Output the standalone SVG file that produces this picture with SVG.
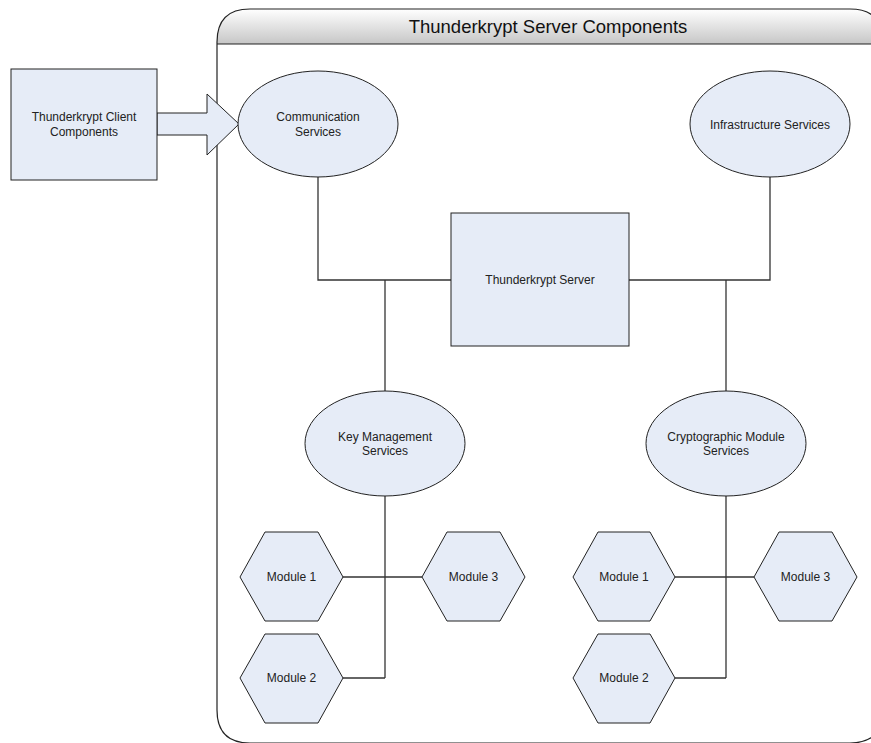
<svg xmlns="http://www.w3.org/2000/svg" width="871" height="743" viewBox="0 0 871 743">
<style>
.n{fill:#e6ecf7;stroke:#222;stroke-width:1}
.t{font-family:"Liberation Sans",Arial,sans-serif;font-size:12px;fill:#222;text-anchor:middle}
.c{fill:none;stroke:#333;stroke-width:1.3}
</style>
<defs>
<linearGradient id="hdr" x1="0" y1="0" x2="0" y2="1">
<stop offset="0" stop-color="#ffffff"/>
<stop offset="1" stop-color="#c6c6c6"/>
</linearGradient>
</defs>
<rect width="871" height="743" fill="#ffffff"/>
<g id="container">
<path d="M217,44 L217,42 Q217,9 250,9 L850,9 Q883,9 883,42 L883,44 Z" fill="url(#hdr)"/>
<path d="M217,44 L217,42 Q217,9 250,9 L850,9 Q883,9 883,42 L883,710 Q883,743 850,743 L250,743 Q217,743 217,710 Z" fill="none" stroke="#222" stroke-width="1.2"/>
<line x1="217" y1="44" x2="883" y2="44" stroke="#222" stroke-width="1.2"/>
<text x="548" y="33" style="font-family:'Liberation Sans',Arial,sans-serif;font-size:18.5px;fill:#111;text-anchor:middle">Thunderkrypt Server Components</text>
</g>
<g id="connectors">
<polygon points="157,113 207,113 207,94 239,124 207,155 207,135 157,135" fill="#e6ecf7" stroke="#222" stroke-width="1"/>
<polyline class="c" points="318,177 318,280 451,280"/>
<line class="c" x1="385" y1="280" x2="385" y2="391"/>
<polyline class="c" points="770,177 770,280 629,280"/>
<line class="c" x1="726" y1="280" x2="726" y2="391"/>
<line class="c" x1="385" y1="496" x2="385" y2="678"/>
<line class="c" x1="343" y1="577" x2="422" y2="577"/>
<line class="c" x1="343" y1="678" x2="385" y2="678"/>
<line class="c" x1="726" y1="496" x2="726" y2="678"/>
<line class="c" x1="675" y1="577" x2="754" y2="577"/>
<line class="c" x1="675" y1="678" x2="726" y2="678"/>
</g>
<g id="client">
<rect class="n" x="11" y="69" width="146" height="111"/>
<text class="t" x="84" y="121">Thunderkrypt Client</text>
<text class="t" x="84" y="136">Components</text>
</g>
<g id="comm">
<ellipse class="n" cx="318" cy="124" rx="80" ry="53"/>
<text class="t" x="318" y="121">Communication</text>
<text class="t" x="318" y="136">Services</text>
</g>
<g id="infra">
<ellipse class="n" cx="770" cy="124" rx="80" ry="53"/>
<text class="t" x="770" y="129">Infrastructure Services</text>
</g>
<g id="server">
<rect class="n" x="451" y="213" width="178" height="133"/>
<text class="t" x="540" y="284">Thunderkrypt Server</text>
</g>
<g id="keymgmt">
<ellipse class="n" cx="385" cy="443.5" rx="80" ry="52.5"/>
<text class="t" x="385" y="441">Key Management</text>
<text class="t" x="385" y="455">Services</text>
</g>
<g id="crypto">
<ellipse class="n" cx="726" cy="443.5" rx="80" ry="52.5"/>
<text class="t" x="726" y="441">Cryptographic Module</text>
<text class="t" x="726" y="455">Services</text>
</g>
<g id="km-module1">
<polygon class="n" points="240,577 265,532 318,532 343,577 318,621 265,621"/>
<text class="t" x="291.5" y="581">Module 1</text>
</g>
<g id="km-module3">
<polygon class="n" points="422,577 447,532 500,532 525,577 500,621 447,621"/>
<text class="t" x="473.5" y="581">Module 3</text>
</g>
<g id="km-module2">
<polygon class="n" points="240,678 265,634 318,634 343,678 318,723 265,723"/>
<text class="t" x="291.5" y="682">Module 2</text>
</g>
<g id="cm-module1">
<polygon class="n" points="573,577 598,532 650,532 675,577 650,621 598,621"/>
<text class="t" x="624" y="581">Module 1</text>
</g>
<g id="cm-module3">
<polygon class="n" points="754,577 779,532 832,532 857,577 832,621 779,621"/>
<text class="t" x="805.5" y="581">Module 3</text>
</g>
<g id="cm-module2">
<polygon class="n" points="573,678 598,634 650,634 675,678 650,723 598,723"/>
<text class="t" x="624" y="682">Module 2</text>
</g>
</svg>
